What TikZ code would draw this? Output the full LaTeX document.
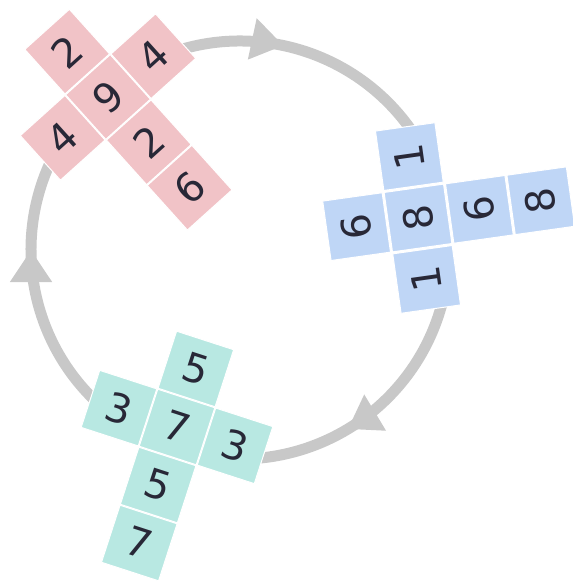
\documentclass[tikz,border=0pt]{standalone}
\usepackage{fontspec}
\setsansfont{DejaVu Sans}
\definecolor{cubered}{RGB}{241,195,199}
\definecolor{cubeblue}{RGB}{191,214,246}
\definecolor{cubegreen}{RGB}{184,232,226}
\definecolor{cyclegray}{RGB}{200,200,200}
\definecolor{digit}{RGB}{40,40,55}
\usetikzlibrary{arrows.meta,decorations.markings}

\begin{document}
\begin{tikzpicture}[x=1pt,y=1pt,
  face/.style={draw=white,line width=1pt,minimum size=60pt,inner sep=0pt,font=\sffamily\fontsize{40}{40}\selectfont,text=digit},
  cyclearc/.style={color=cyclegray,line width=11pt,postaction={decorate},
    decoration={markings,mark=at position #1 with {\arrow{Triangle[length=32pt,width=40pt]}}}}]
  \useasboundingbox (0,0) rectangle (573,584);
  \coordinate (o) at (240,334);
  % the three arcs, clockwise
  \draw[cyclearc=0.415] ([shift={(112:209)}]o) arc[start angle=112,end angle=30,radius=209];
  \draw[cyclearc=0.571] ([shift={(-15:209)}]o) arc[start angle=-15,end angle=-92,radius=209];
  \draw[cyclearc=0.634] ([shift={(232:209)}]o) arc[start angle=232,end angle=150,radius=209];
  % red net
  \begin{scope}[shift={(108,487)},rotate=42,transform shape]
    \node[face,fill=cubered] (r1) at (0,61) {2};
    \node[face,fill=cubered] (r2) at (0,0) {9};
    \node[face,fill=cubered] (r3) at (0,-61) {2};
    \node[face,fill=cubered,rotate=180] (r4) at (0,-122) {9};
    \node[face,fill=cubered] (r5) at (-61,0) {4};
    \node[face,fill=cubered] (r6) at (61,0) {4};
  \end{scope}
  % blue net
  \begin{scope}[shift={(418,366)},rotate=98,transform shape]
    \node[face,fill=cubeblue] (b1) at (0,62) {6};
    \node[face,fill=cubeblue] (b2) at (0,0) {8};
    \node[face,fill=cubeblue] (b3) at (0,-62) {6};
    \node[face,fill=cubeblue] (b4) at (0,-124) {8};
    \node[face,fill=cubeblue] (b5) at (-62,0) {1};
    \node[face,fill=cubeblue] (b6) at (62,0) {1};
  \end{scope}
  % green net
  \begin{scope}[shift={(177,157)},rotate=-18,transform shape]
    \node[face,fill=cubegreen] (g1) at (0,61) {5};
    \node[face,fill=cubegreen] (g2) at (0,0) {7};
    \node[face,fill=cubegreen] (g3) at (0,-61) {5};
    \node[face,fill=cubegreen] (g4) at (0,-122) {7};
    \node[face,fill=cubegreen] (g5) at (-61,0) {3};
    \node[face,fill=cubegreen] (g6) at (61,0) {3};
  \end{scope}
\end{tikzpicture}
\end{document}
